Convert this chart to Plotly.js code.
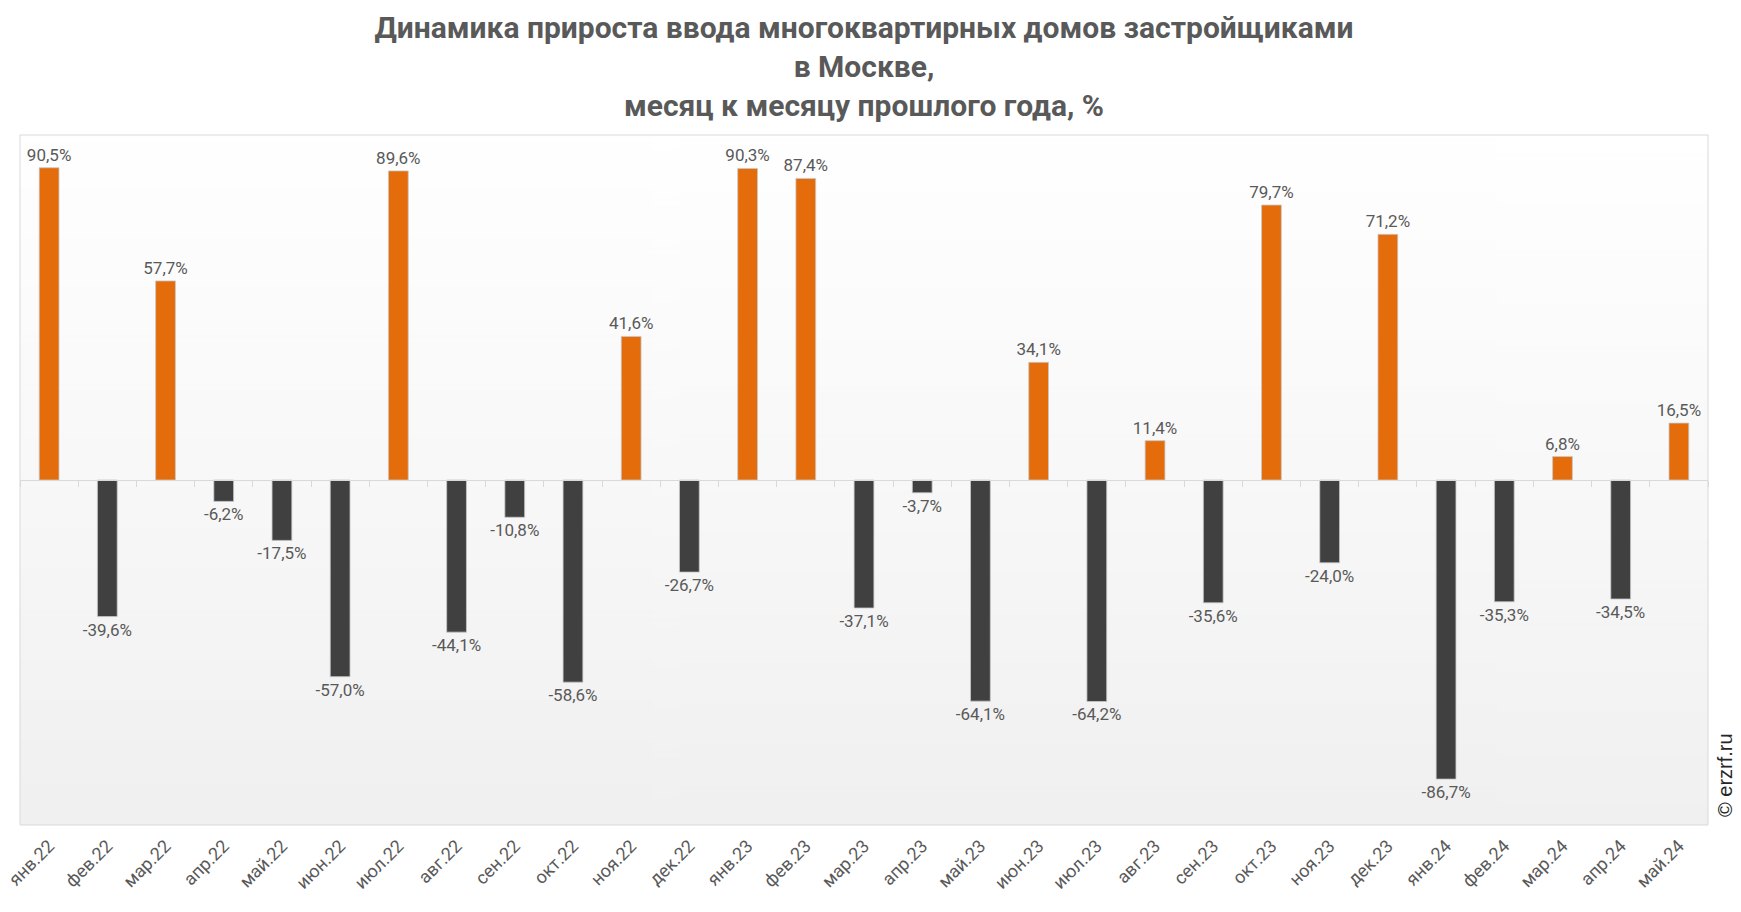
<!DOCTYPE html>
<html>
<head>
<meta charset="utf-8">
<script src="https://cdn.plot.ly/plotly-3.0.1.min.js"></script>
<style>html,body{margin:0;padding:0;background:#fff;}#chart{width:1741px;height:912px;}</style>
</head>
<body>
<div id="chart"></div>
<script>
const categories = ["янв.22","фев.22","мар.22","апр.22","май.22","июн.22","июл.22","авг.22","сен.22","окт.22","ноя.22","дек.22",
  "янв.23","фев.23","мар.23","апр.23","май.23","июн.23","июл.23","авг.23","сен.23","окт.23","ноя.23","дек.23",
  "янв.24","фев.24","мар.24","апр.24","май.24"];
const values = [90.5,-39.6,57.7,-6.2,-17.5,-57.0,89.6,-44.1,-10.8,-58.6,41.6,-26.7,
  90.3,87.4,-37.1,-3.7,-64.1,34.1,-64.2,11.4,-35.6,79.7,-24.0,71.2,
  -86.7,-35.3,6.8,-34.5,16.5];
const titleText = "<b>Динамика прироста ввода многоквартирных домов застройщиками<br>в Москве,<br>месяц к месяцу прошлого года, %</b>";
const watermark = "© erzrf.ru";

const ORANGE = "#E46C0A", DARK = "#404040";
const colors = values.map(v => v >= 0 ? ORANGE : DARK);

// background gradient
const cv = document.createElement("canvas");
cv.width = 4; cv.height = 400;
const ctx = cv.getContext("2d");
const g = ctx.createLinearGradient(0, 0, 0, 400);
g.addColorStop(0, "#ffffff");
g.addColorStop(0.5, "#f8f8f8");
g.addColorStop(1, "#f0f0f0");
ctx.fillStyle = g; ctx.fillRect(0, 0, 4, 400);
const bg = cv.toDataURL();

const traces = [
  {
    type: "bar", x: categories, y: values,
    marker: {color: colors, line: {color: "#c8c8c8", width: 0.8}},
    texttemplate: "%{y:.1f}%", textposition: "outside", cliponaxis: false, constraintext: "none",
    textfont: {family: "Roboto", size: 17, color: "#595959"},
    hoverinfo: "x+y", showlegend: false
  },
  {
    type: "scatter", mode: "markers", x: categories, y: categories.map(() => 0),
    xaxis: "x2", marker: {opacity: 0}, hoverinfo: "skip", showlegend: false
  }
];

const layout = {
  width: 1741, height: 912,
  margin: {l: 20, r: 33, t: 135, b: 87},
  paper_bgcolor: "#ffffff", plot_bgcolor: "rgba(0,0,0,0)",
  separators: ", ",
  bargap: 0.66,
  title: {text: titleText, x: 0.5, xanchor: "center", xref: "paper", y: 0.958, yanchor: "top", yref: "container",
    font: {family: "Roboto", size: 30, color: "#595959"}},
  xaxis: {type: "category", categoryarray: categories, range: [-0.5, categories.length - 0.5],
    showgrid: false, zeroline: false, showline: false, ticks: "", tickangle: -45, ticklabelstandoff: 6,
    tickfont: {family: "Roboto", size: 18, color: "#595959"}},
  xaxis2: {type: "category", categoryarray: categories, range: [-0.5, categories.length - 0.5],
    overlaying: "x", anchor: "free", position: 0.5, showticklabels: false, showgrid: false, zeroline: false,
    showline: true, linecolor: "#d9d9d9", linewidth: 1, ticks: "outside", tickson: "boundaries",
    ticklen: 6, tickcolor: "#d9d9d9", tickwidth: 1},
  yaxis: {range: [-100, 100], showgrid: false, zeroline: false, showticklabels: false, ticks: "", showline: false},
  images: [{source: bg, xref: "paper", yref: "paper", x: 0, y: 1, sizex: 1, sizey: 1,
    sizing: "stretch", xanchor: "left", yanchor: "top", layer: "below"}],
  shapes: [{type: "rect", xref: "paper", yref: "paper", x0: 0, x1: 1, y0: 0, y1: 1,
    line: {color: "#d9d9d9", width: 1}, fillcolor: "rgba(0,0,0,0)", layer: "above"}],
  annotations: [{text: watermark, xref: "paper", yref: "paper", x: 1, y: 0, xanchor: "center", yanchor: "bottom",
    xshift: 17, yshift: 6, textangle: -90, showarrow: false,
    font: {family: "Liberation Sans", size: 20, color: "#262626"}}]
};

Plotly.newPlot("chart", traces, layout, {displayModeBar: false, staticPlot: true});
</script>
</body>
</html>
